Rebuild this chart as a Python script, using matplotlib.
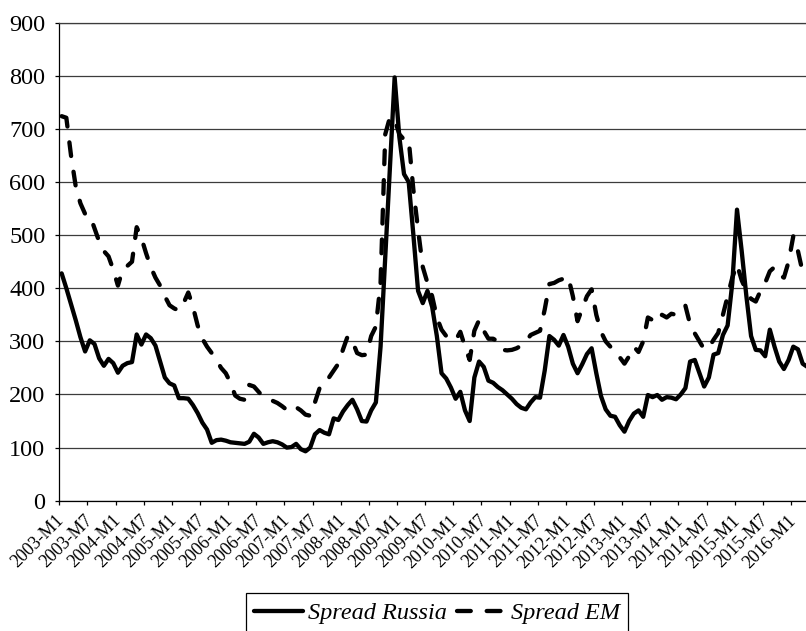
import numpy as np
import matplotlib
matplotlib.use("Agg")
import matplotlib.pyplot as plt

plt.rcParams['font.family'] = 'serif'
plt.rcParams['font.serif'] = ['Liberation Serif', 'DejaVu Serif']

# monthly categories, 2003-M1 ... 2016-M4
months = [f"{y}-M{m}" for y in range(2003, 2017) for m in range(1, 13)][:160]

spread_russia = [
    428, 400, 370, 340, 308, 281, 302, 295, 268, 254, 267, 259,   # 2003
    241, 254, 259, 261, 313, 294, 313, 306, 292, 262, 232, 221,   # 2004
    217, 193, 193, 192, 180, 165, 147, 134, 109, 114, 115, 113,   # 2005
    110, 109, 108, 107, 111, 126, 119, 107, 110, 112, 110, 106,   # 2006
    100, 101, 107, 97, 93, 100, 125, 133, 128, 125, 155, 152,     # 2007
    168, 180, 190, 172, 150, 149, 170, 185, 290, 460, 630, 797,   # 2008
    685, 615, 600, 500, 395, 372, 395, 365, 310, 240, 230, 213,   # 2009
    192, 205, 170, 150, 232, 262, 252, 226, 222, 214, 208, 200,   # 2010
    192, 182, 175, 172, 185, 195, 194, 245, 310, 303, 292, 312,   # 2011
    290, 258, 240, 257, 276, 287, 240, 197, 172, 160, 158, 142,   # 2012
    130, 150, 164, 170, 158, 199, 195, 199, 190, 195, 194, 191,   # 2013
    200, 212, 262, 265, 240, 215, 232, 275, 278, 312, 330, 410,   # 2014
    548, 470, 385, 310, 284, 283, 272, 322, 290, 262, 248, 265,   # 2015
    290, 285, 258, 252,                                           # 2016
]

spread_em = [
    724, 721, 650, 592, 560, 540, 538, 513, 488, 470, 460, 435,
    405, 435, 442, 450, 515, 495, 466, 440, 420, 405, 385, 368,
    362, 358, 372, 392, 365, 330, 305, 290, 278, 265, 250, 240,
    222, 198, 192, 190, 218, 215, 205, 195, 190, 188, 184, 178,
    171, 168, 176, 170, 162, 160, 185, 212, 228, 232, 245, 258,
    285, 310, 300, 278, 274, 275, 310, 328, 410, 690, 722, 718,
    690, 680, 680, 585, 510, 440, 410, 385, 345, 322, 310, 305,
    302, 318, 290, 265, 320, 340, 320, 305, 305, 300, 284, 283,
    284, 287, 292, 300, 312, 316, 320, 360, 408, 410, 415, 418,
    422, 385, 338, 362, 385, 398, 350, 318, 300, 290, 285, 270,
    258, 272, 290, 280, 300, 345, 340, 335, 350, 345, 352, 350,
    355, 367, 332, 315, 300, 285, 288, 303, 316, 350, 385, 420,
    445, 415, 395, 380, 375, 395, 410, 432, 440, 425, 420, 450,
    498, 470, 430, 420,
]

x = np.arange(len(months))

W, H = 806, 631
fig = plt.figure(figsize=(W/100, H/100), dpi=100)
ax = fig.add_axes([59.3/W, 130.3/H, 750.4/W, 478/H])

ax.plot(x, spread_russia, color='black', lw=3.1,
        solid_joinstyle='round', solid_capstyle='round', label='Spread Russia')
ax.plot(x, spread_em, color='black', lw=3.1, ls=(0, (3.2, 3.7)),
        dash_capstyle='round', dash_joinstyle='round', label='Spread EM')

ax.set_xlim(-0.5, len(months) - 0.5)
ax.set_ylim(0, 900)
ax.set_yticks(range(0, 901, 100))
ax.yaxis.grid(True, color='#3c3c3c', lw=0.9)
ax.set_axisbelow(True)

ax.spines['right'].set_visible(False)
ax.spines['top'].set_color('#3c3c3c')
ax.spines['top'].set_linewidth(0.9)
ax.spines['left'].set_linewidth(0.9)
ax.spines['bottom'].set_linewidth(0.9)

# labels on category centres, tick marks on category boundaries
ax.set_xticks(x[::6])
ax.set_xticklabels(months[::6], rotation=45, ha='right', va='center',
                   rotation_mode='anchor', fontsize=13)
ax.set_xticks(np.arange(-0.5, len(months), 6), minor=True)
ax.tick_params(axis='x', which='major', length=0, pad=12.5)
ax.tick_params(axis='x', which='minor', length=3, width=0.9, direction='out')
ax.tick_params(axis='y', length=3, width=0.9, pad=7, labelsize=17.5)

leg = fig.legend(loc='center', bbox_to_anchor=(437/W, 18/H), ncol=2,
                 frameon=True, fancybox=False, edgecolor='black', framealpha=1,
                 prop={'style': 'italic', 'size': 17.5}, handlelength=2.0,
                 handletextpad=0.2, columnspacing=0.45, borderpad=0.35)
leg.get_frame().set_linewidth(0.9)

fig.savefig("out.png", dpi=100)
